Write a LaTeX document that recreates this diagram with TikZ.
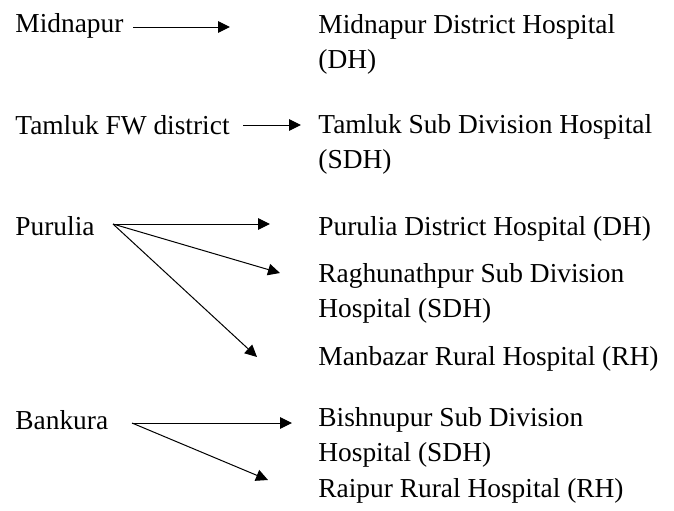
\documentclass[tikz,border=0pt]{standalone}
\usepackage{fontspec}
\setmainfont{Liberation Serif}
\usetikzlibrary{arrows.meta}
\tikzset{
  place/.style={anchor=base west, inner sep=0pt, align=left, font=\fontsize{13.7}{17.5}\selectfont},
  link/.style={-{Triangle[length=6pt,width=5.8pt]}, line width=0.5pt},
}
\begin{document}
\begin{tikzpicture}[x=0.5pt,y=-0.5pt]
    \useasboundingbox (0,0) rectangle (674,510);

    % Districts
    \node (mid) at (15,32) [place] {Midnapur};
    \node (tam) at (15,134) [place] {Tamluk FW district};
    \node (pur) at (15,235) [place] {Purulia};
    \node (ban) at (15,429) [place] {Bankura};

    % Hospitals (base = last line)
    \node (midDH) at (318,68) [place] {Midnapur District Hospital\\(DH)};
    \node (tamSDH) at (318,168) [place] {Tamluk Sub Division Hospital\\(SDH)};
    \node (purDH) at (318,235) [place] {Purulia District Hospital (DH)};
    \node (ragSDH) at (318,317) [place] {Raghunathpur Sub Division\\Hospital (SDH)};
    \node (manRH) at (318,365) [place] {Manbazar Rural Hospital (RH)};
    \node (bisSDH) at (318,461) [place] {Bishnupur Sub Division\\Hospital (SDH)};
    \node (raiRH) at (318,497) [place] {Raipur Rural Hospital (RH)};

    % Arrow ends
    \coordinate (midO) at (133,27);
    \coordinate (midI) at (230,27);
    \coordinate (tamO) at (243,125);
    \coordinate (tamI) at (301,125);
    \coordinate (purO) at (113,224);
    \coordinate (purI1) at (270,224);
    \coordinate (purI2) at (280,273);
    \coordinate (purI3) at (257,357);
    \coordinate (banO) at (132,423);
    \coordinate (banI1) at (292,423);
    \coordinate (banI2) at (268,480);

    % Arrows
    \draw [link] (midO) -- (midI);
    \draw [link] (tamO) -- (tamI);
    \draw [link] (purO) -- (purI1);
    \draw [link] (purO) -- (purI2);
    \draw [link] (purO) -- (purI3);
    \draw [link] (banO) -- (banI1);
    \draw [link] (banO) -- (banI2);
\end{tikzpicture}
\end{document}
